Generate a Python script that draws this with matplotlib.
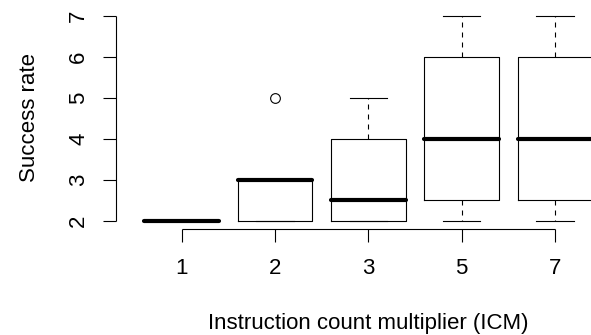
import matplotlib
matplotlib.use("Agg")
import matplotlib.pyplot as plt

plt.rcParams['font.family'] = ['Liberation Sans', 'DejaVu Sans']

categories = ["1", "2", "3", "5", "7"]
whislo = [2, 2, 2, 2, 2]
q1 = [2, 2, 2, 2.5, 2.5]
med = [2, 3, 2.5, 4, 4]
q3 = [2, 3, 4, 6, 6]
whishi = [2, 3, 5, 7, 7]
fliers = [[], [5], [], [], []]
yticks = [2, 3, 4, 5, 6, 7]

stats = []
for i, c in enumerate(categories):
    stats.append(dict(label=c, whislo=whislo[i], q1=q1[i], med=med[i],
                      q3=q3[i], whishi=whishi[i], fliers=fliers[i]))

W, H = 591, 335
fig = plt.figure(figsize=(W / 100, H / 100), dpi=100)
left_px, right_px, top_px, bot_px = 116.4, 591, 7.8, 229.2
ax = fig.add_axes([left_px / W, 1 - bot_px / H, (right_px - left_px) / W, (bot_px - top_px) / H])

lw = 0.8
ax.bxp(stats, positions=range(1, len(categories) + 1), widths=0.8, capwidths=0.4,
       boxprops=dict(color='black', linewidth=lw),
       medianprops=dict(color='black', linewidth=3.0, solid_capstyle='round'),
       whiskerprops=dict(color='black', linewidth=lw, linestyle=(0, (4.5, 4.5))),
       capprops=dict(color='black', linewidth=lw),
       flierprops=dict(marker='o', markerfacecolor='none', markeredgecolor='black',
                       markersize=7, markeredgewidth=lw),
       showfliers=True, manage_ticks=False)

px_per_unit = 93.3
ax.set_xlim(0.3, 0.3 + (right_px - left_px) / px_per_unit)
ax.set_ylim(1.8, 7.2)
for s in ax.spines.values():
    s.set_visible(False)

# R-style detached axes
ax.plot([0.3, 0.3], [2, 7], color='black', lw=lw, clip_on=False, solid_capstyle='butt')
ax.plot([1, 5], [1.8, 1.8], color='black', lw=lw, clip_on=False, solid_capstyle='butt')

fs = 16
ax.set_xticks(range(1, len(categories) + 1))
ax.set_xticklabels(categories)
ax.set_yticks(yticks)
ax.set_yticklabels([str(v) for v in yticks], rotation=90, va='center')
ax.tick_params(axis='both', length=9.5, width=lw, labelsize=fs, color='black')
ax.tick_params(axis='x', pad=11)
ax.tick_params(axis='y', pad=10)

ax.set_ylabel("Success rate", fontsize=fs)
ax.set_xlabel("Instruction count multiplier (ICM)", fontsize=fs)
ax.xaxis.set_label_coords((368 - left_px) / (right_px - left_px), -(323 - bot_px) / (bot_px - top_px))
ax.xaxis.label.set_va('center')
ax.yaxis.set_label_coords(-(left_px - 30) / (right_px - left_px), (bot_px - 118) / (bot_px - top_px))
ax.yaxis.label.set_va('center')

fig.savefig("out.png", dpi=100)
